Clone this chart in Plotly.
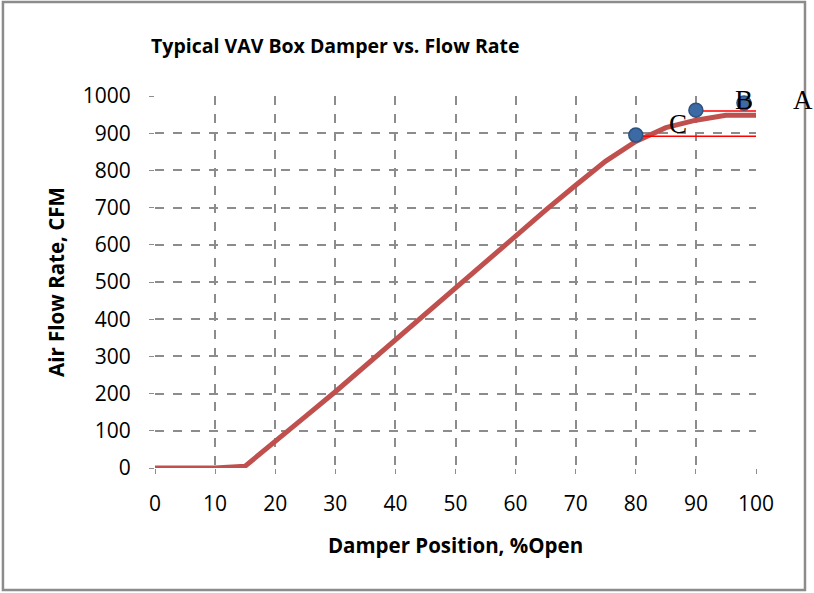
import plotly.graph_objects as go

damper_pct = [0, 5, 10, 15, 20, 25, 30, 35, 40, 45, 50, 55, 60, 65, 70, 75, 80, 85, 90, 95, 100]
flow_cfm = [0, 0, 0, 5, 70, 138, 205, 275, 345, 415, 485, 555, 625, 693, 760, 825, 878, 915, 935, 948, 948]

point_x = [80, 90, 98]
point_y = [895, 962, 981]

ref_line_c = {"x": [80, 100], "y": [892, 892]}
ref_line_b = {"x": [90, 100], "y": [960, 960]}

label_text = ["C", "B", "A"]
label_x = [87.0, 98, 107.8]
label_y = [925, 989, 989]

fig = go.Figure()
fig.add_trace(go.Scatter(x=damper_pct, y=flow_cfm, mode="lines",
                         line=dict(color="#C0504D", width=5), showlegend=False))
fig.add_trace(go.Scatter(x=ref_line_c["x"], y=ref_line_c["y"], mode="lines",
                         line=dict(color="#FF0000", width=1.5), showlegend=False))
fig.add_trace(go.Scatter(x=ref_line_b["x"], y=ref_line_b["y"], mode="lines",
                         line=dict(color="#FF0000", width=1.5), showlegend=False))
fig.add_trace(go.Scatter(x=point_x, y=point_y, mode="markers",
                         marker=dict(color="#3C6AA5", size=14, line=dict(color="#2C5282", width=1.5)),
                         showlegend=False, cliponaxis=False))

for t, x, y in zip(label_text, label_x, label_y):
    # labels may sit outside the x range, so place them in paper units derived from the axis values
    fig.add_annotation(x=x / 100.0, y=y / 1000.0, text=t, showarrow=False, xref="paper", yref="paper",
                       xanchor="center", yanchor="middle",
                       font=dict(family="Liberation Serif, Times New Roman, serif", size=27, color="black"))

fig.add_shape(type="rect", xref="paper", yref="paper", x0=-0.253, x1=1.0815, y0=-0.328, y1=1.2527,
              line=dict(color="#8C8C8C", width=2.5), layer="below")

font_sans = "Open Sans, Arial, sans-serif"
fig.update_layout(
    width=814, height=593,
    margin=dict(l=155, r=58, t=96, b=125),
    paper_bgcolor="white", plot_bgcolor="white",
    title=dict(text="<b>Typical VAV Box Damper vs. Flow Rate</b>", x=0.30, xanchor="center", xref="paper",
               y=0.922, yanchor="middle", font=dict(family=font_sans, size=19.5, color="black")),
    xaxis=dict(range=[0, 100], dtick=10, showgrid=True, gridcolor="#8C8C8C", griddash="dash", gridwidth=1.5,
               zeroline=False, showline=False, ticks="outside", ticklen=5, tickcolor="#8C8C8C",
               tickfont=dict(family=font_sans, size=21, color="black"), ticklabelstandoff=12,
               title=dict(text="<b>Damper Position, %Open</b>", standoff=22,
                          font=dict(family=font_sans, size=20.5, color="black"))),
    yaxis=dict(range=[0, 1000], dtick=100, showgrid=True, gridcolor="#8C8C8C", griddash="dash", gridwidth=1.5,
               zeroline=False, showline=False, ticks="outside", ticklen=5, tickcolor="#8C8C8C",
               tickfont=dict(family=font_sans, size=21, color="black"), ticklabelstandoff=14,
               title=dict(text="<b>Air Flow Rate, CFM</b>", standoff=12,
                          font=dict(family=font_sans, size=20.5, color="black"))),
)
fig.write_html("out.html", config={"displayModeBar": False},
               post_script="document.body.style.margin='0';")
